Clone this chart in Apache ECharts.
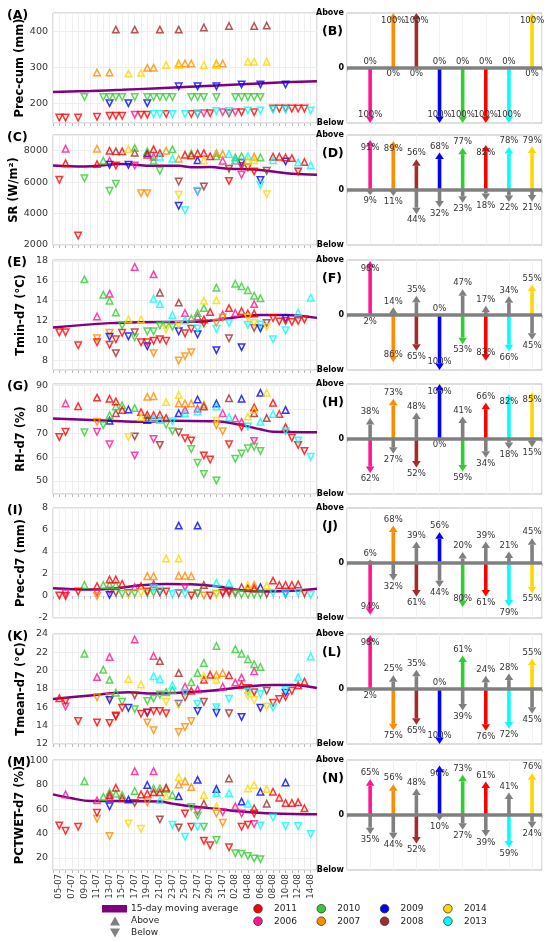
<!DOCTYPE html>
<html>
<head>
<meta charset="utf-8">
<script src="https://cdn.jsdelivr.net/npm/echarts@6/dist/echarts.min.js"></script>
<style>
  html, body { margin: 0; padding: 0; background: #fff; }
  #chart { width: 550px; height: 942px; }
</style>
</head>
<body>
<div id="chart"></div>
<script>
// ---- data ----
const years = [2006, 2007, 2008, 2009, 2010, 2011, 2013, 2014];
const yearColors = ['#ff1493', '#ff8c00', '#a52a2a', '#0000ff', '#32cd32', '#ff0000', '#00ffff', '#ffd700'];

const dayLabels = ['05-07','06-07','07-07','08-07','09-07','10-07','11-07','12-07','13-07','14-07',
  '15-07','16-07','17-07','18-07','19-07','20-07','21-07','22-07','23-07','24-07','25-07','26-07',
  '27-07','28-07','29-07','30-07','31-07','01-08','02-08','03-08','04-08','05-08','06-08','07-08',
  '08-08','09-08','10-08','11-08','12-08','13-08','14-08'];

// points: [day index, value, year, 1 = above / 0 = below]
const precCumPts = [
  [9,404,2008,1],[12,404,2008,1],[16,404,2008,1],[19,404,2008,1],[23,410,2008,1],[27,414,2008,1],[31,414,2008,1],[33,415,2008,1],
  [6,285,2007,1],[8,285,2007,1],[14,298,2007,1],[15,298,2007,1],[19,310,2007,1],[20,310,2007,1],[21,310,2007,1],[25,310,2007,1],[26,310,2007,1],
  [11,282,2014,1],[13,284,2014,1],[17,306,2014,1],[19,306,2014,1],[23,306,2014,1],[25,306,2014,1],[30,315,2014,1],[31,315,2014,1],[33,315,2014,1],
  [8,200,2009,0],[11,200,2009,0],[14,200,2009,0],[19,247,2009,0],[22,247,2009,0],[25,247,2009,0],[29,252,2009,0],[32,252,2009,0],[36,252,2009,0],
  [4,217,2010,0],[7,217,2010,0],[8,217,2010,0],[9,217,2010,0],[10,217,2010,0],[12,217,2010,0],[14,217,2010,0],[15,217,2010,0],[16,217,2010,0],[17,217,2010,0],
  [18,217,2010,0],[21,217,2010,0],[22,217,2010,0],[23,217,2010,0],[25,217,2010,0],[28,217,2010,0],[29,217,2010,0],[30,217,2010,0],[31,217,2010,0],[32,217,2010,0],
  [0,160,2011,0],[1,160,2011,0],[3,160,2011,0],[6,162,2011,0],[8,165,2011,0],[9,165,2011,0],[10,165,2011,0],[13,168,2011,0],[14,168,2011,0],[17,170,2011,0],
  [21,170,2011,0],[22,170,2011,0],[24,172,2011,0],[27,172,2011,0],[29,175,2011,0],[31,175,2011,0],[34,185,2011,0],[35,185,2011,0],[36,185,2011,0],[37,185,2011,0],[38,185,2011,0],[39,185,2011,0],
  [12,168,2006,0],[23,172,2006,0],[26,175,2006,0],[28,175,2006,0],
  [15,170,2013,0],[16,170,2013,0],[18,170,2013,0],[20,170,2013,0],[22,172,2013,0],[25,178,2013,0],[27,178,2013,0],[30,180,2013,0],[32,180,2013,0],[34,182,2013,0],[36,182,2013,0],[40,180,2013,0]
];
const srPts = [
  [0,6150,2011,0],[1,8130,2006,1],[1,7210,2011,1],[3,2600,2011,0],[4,6250,2010,0],
  [6,8130,2007,1],[6,7150,2011,1],[7,7360,2010,1],
  [8,8000,2011,1],[8,7360,2006,1],[8,7100,2009,0],[8,5450,2010,0],
  [9,7960,2008,1],[9,7060,2011,0],[9,5900,2010,0],[10,7960,2011,1],
  [11,8090,2014,1],[11,7100,2009,0],
  [12,8170,2010,1],[12,7870,2008,1],[12,7060,2006,0],[13,5300,2007,0],
  [14,7960,2010,1],[14,7850,2009,1],[14,7740,2011,1],[14,5300,2007,0],
  [15,8090,2011,1],[15,7620,2006,1],[15,7360,2010,1],
  [16,7850,2011,1],[16,7620,2013,1],[16,6720,2010,0],[17,8000,2007,1],
  [18,8090,2010,1],[18,7490,2013,1],
  [19,7490,2007,1],[19,6040,2008,0],[19,5190,2014,0],[19,4490,2009,0],
  [20,7740,2011,1],[20,4210,2013,0],[21,7830,2010,1],[21,7700,2011,1],
  [22,7830,2011,1],[22,7400,2009,1],[22,5400,2006,0],[22,5450,2013,0],
  [23,7850,2011,1],[23,7380,2014,1],[23,5720,2008,0],[24,7640,2011,1],
  [25,7850,2007,1],[25,7640,2010,1],[26,7790,2007,1],[26,7360,2006,1],
  [27,7790,2013,1],[27,6850,2008,0],[27,6080,2011,0],
  [28,7570,2010,1],[28,7380,2006,1],[28,7400,2013,1],
  [29,7650,2010,1],[29,7230,2009,0],[29,7020,2011,0],[29,6470,2006,0],
  [30,7650,2013,1],[30,7360,2014,1],[30,6940,2011,0],
  [31,7620,2007,1],[31,7400,2014,1],[31,6680,2011,0],
  [32,7570,2010,1],[32,6130,2009,0],[32,5830,2013,0],
  [33,6720,2008,0],[33,5230,2014,0],[34,7620,2011,1],[34,7400,2013,1],[35,7620,2011,1],
  [36,7570,2011,1],[36,7320,2009,0],[37,7530,2011,1],[38,7250,2013,1],[38,6680,2011,0],
  [39,7280,2011,1],[40,7080,2013,1]
];
const tminPts = [
  [0,10.8,2011,0],[1,10.8,2011,0],[3,9.5,2011,0],[4,16.15,2010,1],
  [6,12.4,2006,1],[6,10.2,2007,0],[6,9.8,2011,0],[7,14.6,2010,1],
  [8,14.7,2006,1],[8,14.0,2010,1],[8,10.75,2007,0],[8,10.35,2009,0],[8,9.55,2011,0],
  [9,12.8,2010,1],[9,10.1,2011,0],[9,8.7,2008,0],[10,11.5,2010,0],[10,10.75,2011,0],
  [11,12.1,2014,1],[11,10.4,2009,0],[12,17.4,2006,1],[12,10.8,2008,0],[12,10.3,2010,0],
  [13,12.1,2014,1],[13,9.8,2011,0],[14,10.9,2010,0],[14,9.8,2011,0],[14,9.4,2009,0],
  [15,16.65,2006,1],[15,14.2,2013,1],[15,10.9,2010,0],[15,9.95,2011,0],[15,8.7,2007,0],
  [16,14.8,2008,1],[16,13.65,2013,1],[16,11.5,2010,0],[16,10.1,2011,0],
  [17,11.55,2010,0],[17,11.1,2014,0],[17,9.95,2011,0],[18,12.55,2013,1],[18,11.35,2010,0],
  [19,13.8,2008,1],[19,11.55,2014,0],[19,10.9,2009,0],[19,7.95,2007,0],
  [20,12.75,2006,1],[20,12.0,2013,1],[20,10.7,2011,0],[20,8.4,2007,0],
  [21,12.2,2010,1],[21,11.15,2011,0],[21,8.8,2007,0],
  [22,12.75,2010,1],[22,12.4,2006,1],[22,11.2,2013,0],[22,10.6,2009,0],
  [23,14.0,2014,1],[23,13.25,2010,1],[23,12.1,2011,1],[23,11.7,2008,0],[24,12.85,2011,1],
  [25,15.3,2010,1],[25,14.05,2014,1],[25,11.75,2007,0],[25,11.15,2013,0],[25,9.0,2009,0],
  [26,12.6,2006,1],[26,12.3,2007,0],[27,13.25,2011,1],[27,11.75,2013,0],[27,10.2,2008,0],
  [28,15.7,2010,1],[28,12.75,2006,1],[29,15.45,2010,1],[29,12.95,2011,1],[29,9.3,2009,0],
  [30,15.05,2010,1],[30,12.7,2011,1],[30,12.3,2014,0],[30,11.55,2013,0],
  [31,14.5,2010,1],[31,13.65,2006,1],[31,12.7,2011,1],[31,11.75,2014,0],[31,11.25,2008,0],
  [32,14.25,2010,1],[32,11.6,2013,0],[32,11.2,2009,0],[33,11.75,2008,0],[33,11.35,2014,0],
  [34,12.25,2011,0],[34,10.1,2013,0],[35,11.9,2011,0],
  [36,12.2,2009,0],[36,11.95,2011,0],[36,11.0,2013,0],[37,11.85,2011,0],
  [38,12.8,2013,1],[38,11.95,2011,0],[39,12.1,2011,0],[40,14.3,2013,1]
];
const rhPts = [
  [0,68.4,2011,0],[1,82.5,2006,1],[1,70.6,2011,0],[3,81.4,2011,1],[4,70.4,2010,0],
  [6,85,2011,1],[6,74.8,2007,0],[6,70.6,2006,0],[7,73.4,2010,0],
  [8,84.5,2011,1],[8,77.6,2010,1],[8,75.3,2009,1],[8,65.4,2006,0],
  [9,83.4,2011,1],[9,81.2,2010,1],[9,78.4,2008,1],[10,81.7,2010,1],[10,79.8,2011,1],
  [11,80,2009,1],[11,68.4,2014,0],[12,80.6,2010,1],[12,68.7,2008,0],[12,60.7,2006,0],
  [13,78.9,2011,1],[13,76.7,2014,1],
  [14,85.3,2007,1],[14,77.8,2011,1],[14,76.4,2010,1],[14,75.6,2009,1],
  [15,85.6,2007,1],[15,77.6,2011,1],[15,76.4,2013,1],[15,67.6,2006,0],
  [16,77.8,2011,1],[16,75.6,2013,1],[16,65.1,2008,0],
  [17,83.1,2014,1],[17,76.4,2011,1],[17,73.7,2010,0],[18,75.1,2013,0],[18,70.9,2010,0],
  [19,86.1,2014,1],[19,82.5,2007,1],[19,78.4,2009,1],[19,70.4,2008,0],
  [20,82.5,2007,1],[20,79.8,2006,1],[20,78.4,2013,1],[20,67.9,2011,0],
  [21,82.5,2007,1],[21,67,2011,0],[21,63.4,2010,0],
  [22,84.2,2009,1],[22,80.3,2006,1],[22,79.2,2013,1],[22,57.6,2010,0],
  [23,82,2007,1],[23,81.2,2008,1],[23,60.7,2011,0],[23,52.9,2010,0],[24,59,2011,0],
  [25,82.5,2009,1],[25,81.2,2013,1],[25,75.3,2014,0],[25,73.4,2007,0],[25,50.2,2010,0],
  [26,78.4,2006,1],[26,70.9,2007,0],[27,84.7,2008,1],[27,76.7,2013,1],[27,65.4,2011,0],
  [28,76.2,2006,1],[28,59.3,2010,0],
  [29,84.5,2009,1],[29,74.8,2006,1],[29,72.6,2011,0],[29,61.5,2010,0],
  [30,77,2014,1],[30,72.9,2013,0],[30,63.7,2010,0],
  [31,80.9,2011,1],[31,79.8,2014,1],[31,78.4,2008,1],[31,66.8,2006,0],[31,64.3,2010,0],
  [32,87,2009,1],[32,74.8,2013,1],[32,62.6,2010,0],[33,87,2014,1],[33,76.4,2008,1],
  [34,82.8,2011,1],[34,78.1,2013,1],[35,78.1,2011,1],
  [36,79.8,2009,1],[36,72.6,2011,1],[36,70.9,2013,0],[37,68.1,2011,0],
  [38,67,2013,0],[38,65.1,2011,0],[39,62.6,2011,0],[40,60.1,2013,0]
];
const precPts = [
  [0,0.05,2011,0],[1,0,2011,0],[1,0.25,2006,0],[3,0.4,2011,0],[4,1.0,2010,1],
  [6,0.9,2011,1],[6,0.3,2006,0],[6,0,2007,0],[7,1.0,2010,1],
  [8,1.5,2011,1],[8,1.0,2010,1],[8,0.5,2006,0],[8,0.1,2009,0],
  [9,1.5,2011,1],[9,1.0,2010,1],[9,0.3,2008,0],[10,1.1,2011,1],[10,0.2,2010,0],
  [11,0.25,2009,0],[11,0.15,2014,0],[12,0.8,2006,1],[12,0.25,2010,0],
  [13,0.9,2011,1],[13,0.3,2014,0],[14,1.8,2007,1],[14,0.4,2011,0],[14,0.25,2010,0],
  [15,1.8,2007,1],[15,1.1,2006,1],[15,0.7,2013,0],[15,0.3,2010,0],
  [16,0.5,2013,0],[16,0.35,2008,0],[16,0.35,2011,0],[17,3.4,2014,1],[17,0.4,2011,0],
  [18,0.2,2013,0],
  [19,6.4,2009,1],[19,3.4,2014,1],[19,1.85,2007,1],[19,0.25,2008,0],
  [20,1.85,2007,1],[20,0.8,2006,0],[20,0.2,2013,0],[21,1.8,2007,1],[21,0.05,2011,0],
  [22,6.4,2009,1],[22,0.2,2010,0],[22,0.25,2006,0],[23,1.0,2008,1],[23,0.05,2007,0],
  [24,0.05,2011,0],[25,1.2,2013,1],[25,0.2,2010,0],[25,0.15,2014,0],
  [26,0.25,2006,0],[26,0.3,2011,0],[27,1.15,2013,1],[27,0.5,2008,0],[27,0.3,2011,0],
  [28,0.3,2006,0],[28,0.2,2010,0],[29,0.8,2008,1],[29,0.15,2010,0],
  [30,1.0,2014,1],[30,0.7,2011,1],[30,0.15,2010,0],[31,1.0,2007,1],[31,0.7,2011,1],[31,0.15,2010,0],
  [32,0.8,2009,1],[32,0.15,2010,0],[33,0.95,2014,1],[33,0.2,2008,0],
  [34,1.4,2011,1],[34,0.3,2013,0],[35,1.0,2011,1],
  [36,1.0,2011,1],[36,0.2,2009,0],[36,0.15,2013,0],[37,1.0,2011,1],
  [38,1.05,2011,1],[38,0.3,2013,0],[39,0.25,2011,0],[40,0.1,2013,0]
];
const tmeanPts = [
  [0,17.0,2011,1],[1,16.65,2011,0],[1,16.1,2006,0],[3,14.5,2011,0],[4,21.85,2010,1],
  [6,19.3,2006,1],[6,17.1,2007,0],[6,14.35,2011,0],[7,20.1,2010,1],
  [8,21.5,2006,1],[8,19.0,2010,1],[8,17.1,2007,0],[8,16.8,2009,0],[8,14.3,2011,0],
  [9,17.6,2010,1],[9,15.1,2011,0],[9,15.0,2008,0],[10,16.6,2010,0],[10,15.95,2011,0],
  [11,19.1,2014,1],[11,15.95,2009,0],[12,23.4,2006,1],[12,17.3,2008,0],[12,15.8,2010,0],
  [13,18.5,2014,1],[13,15.3,2011,0],
  [14,16.7,2010,0],[14,15.45,2011,0],[14,15.4,2009,0],[14,14.35,2007,0],
  [15,21.6,2006,1],[15,19.4,2013,1],[15,16.95,2010,0],[15,15.6,2011,0],[15,13.5,2007,0],
  [16,21.05,2008,1],[16,19.1,2013,1],[16,17.4,2010,0],[16,15.6,2011,0],
  [17,17.65,2010,1],[17,16.6,2014,0],[17,15.35,2011,0],[18,18.4,2013,1],[18,17.9,2010,1],
  [19,19.75,2008,1],[19,16.4,2009,0],[19,16.3,2014,0],[19,13.3,2007,0],
  [20,18.25,2006,1],[20,17.6,2013,0],[20,17.1,2011,0],[20,13.85,2007,0],
  [21,18.75,2010,1],[21,17.8,2011,1],[21,14.5,2007,0],
  [22,19.75,2010,1],[22,17.95,2006,1],[22,16.4,2013,0],[22,15.6,2009,0],
  [23,20.85,2010,1],[23,19.4,2014,1],[23,19.0,2011,1],[23,16.6,2008,0],[24,19.55,2011,1],
  [25,22.7,2010,1],[25,19.55,2007,1],[25,19.0,2014,1],[25,16.0,2013,0],[25,15.4,2009,0],
  [26,19.75,2007,1],[26,18.25,2006,1],[27,19.5,2011,1],[27,16.95,2013,0],[27,15.35,2008,0],
  [28,22.35,2010,1],[28,18.7,2006,1],
  [29,21.85,2010,1],[29,19.25,2006,1],[29,18.45,2011,1],[29,14.95,2009,0],
  [30,21.25,2010,1],[30,18.1,2011,0],[30,17.7,2013,0],[30,17.25,2014,0],
  [31,20.7,2010,1],[31,19.95,2006,1],[31,17.65,2011,0],[31,16.8,2014,0],
  [32,20.4,2010,1],[32,17.45,2013,0],[32,15.95,2009,0],[33,17.8,2008,0],[33,16.1,2014,0],
  [34,16.5,2011,0],[34,16.0,2013,0],[35,16.9,2011,0],
  [36,17.9,2013,0],[36,17.6,2009,0],[36,17.15,2011,0],[37,17.8,2011,0],
  [38,19.3,2013,1],[38,18.4,2011,1],[39,18.8,2011,1],[40,21.55,2013,1]
];
const pctwetPts = [
  [0,46.7,2011,0],[1,72.2,2006,1],[1,42.3,2011,0],[3,45.6,2011,0],[4,83.1,2010,1],
  [6,67.3,2006,1],[6,57.0,2011,0],[6,52.1,2007,0],[7,70.1,2010,1],
  [8,73.9,2010,1],[8,71.7,2011,1],[8,69.5,2006,1],[8,62.4,2009,0],[8,38.0,2007,0],
  [9,77.7,2011,1],[9,72.8,2010,1],[10,71.7,2010,1],[10,69.0,2011,1],
  [11,67.9,2009,1],[11,48.3,2014,0],[12,91.3,2006,1],[12,75,2010,1],[12,65.2,2008,0],
  [13,72.2,2011,1],[13,43.9,2014,0],[14,79.9,2009,1],[14,72.8,2011,1],[14,65.7,2007,0],
  [15,91.3,2006,1],[15,77.1,2010,1],[15,73.9,2011,1],
  [16,77.1,2010,1],[16,73.9,2011,1],[16,67.3,2013,1],[16,51.6,2008,0],
  [17,77.7,2011,1],[17,76.6,2010,1],[17,70.6,2014,1],[18,71.7,2010,1],[18,47.2,2013,0],
  [19,86.4,2014,1],[19,80.4,2007,1],[19,70.6,2009,1],[19,45.0,2008,0],
  [20,83.1,2007,1],[20,56.5,2011,0],[20,37.4,2013,0],
  [21,78.2,2007,1],[21,61.9,2010,0],[21,45.6,2011,0],
  [22,84.2,2009,1],[22,58.1,2006,0],[22,54.8,2010,0],[22,45.6,2013,0],
  [23,71.7,2014,1],[23,64.6,2008,1],[23,45.6,2010,0],[23,34.1,2011,0],[24,30.3,2011,0],
  [25,76.6,2009,1],[25,73.3,2013,1],[25,62.4,2014,1],[25,56.5,2007,0],[25,34.7,2010,0],
  [26,57.6,2006,0],[26,48.8,2007,0],[27,85.3,2008,1],[27,73.3,2013,1],[27,28.7,2011,0],
  [28,62.4,2006,1],[28,23.8,2010,0],
  [29,66.3,2009,1],[29,56.5,2006,0],[29,45.6,2011,0],[29,23.3,2010,0],
  [30,77.1,2014,1],[30,64.6,2013,1],[30,47.2,2011,0],[30,21.6,2010,0],
  [31,79.9,2014,1],[31,60.8,2008,1],[31,56.5,2011,0],[31,47.8,2006,0],[31,19.5,2010,0],
  [32,74.4,2009,1],[32,46.7,2013,0],[32,18.9,2010,0],[33,76.6,2014,1],[33,64.6,2008,1],
  [34,74.4,2011,1],[34,53.2,2013,0],[35,69.5,2011,1],
  [36,82.0,2009,1],[36,65.2,2011,1],[36,46.1,2013,0],[37,65.2,2011,1],
  [38,65.7,2011,1],[38,46.1,2013,0],[39,60.8,2011,1],[40,39.6,2013,0]
];

// 15-day moving averages: [day index, value]
const precCumMA = [[-1,231],[5,234],[10,237],[15,241],[20,245],[25,249],[30,253],[35,257],[41,261]];
const srMA = [[-1,7060],[4,7000],[10,7150],[15,7040],[19,7040],[21,6940],[24,6960],[27,6850],[31,6810],[34,6680],[37,6530],[41,6470]];
const tminMA = [[-1,11.3],[8,11.73],[13,11.83],[21,11.86],[26,12.13],[32,12.56],[36,12.56],[41,12.26]];
const rhMA = [[-1,76.2],[8,75.3],[13,74.8],[18,75.3],[24,75.1],[26,74.8],[29,73.4],[32,71.7],[34,70.6],[41,70.4]];
const precMA = [[-1,0.71],[5,0.6],[9,0.71],[13,0.98],[17,1.1],[21,1.07],[25,0.89],[29,0.53],[33,0.41],[37,0.47],[41,0.65]];
const tmeanMA = [[-1,16.9],[5,17.3],[11,17.65],[15,17.5],[19,17.6],[24,17.8],[29,18.2],[34,18.45],[37,18.45],[41,18.1]];
const pctwetMA = [[-1,72.2],[2,69],[5,66.8],[10,66.8],[16,66.3],[18,64.6],[21,62.4],[25,60.3],[29,58.1],[34,56.5],[41,55.9]];

// share of days above / below the average, per year (same order as years)
const precCumAbove = [0, 100, 100, 0, 0, 0, 0, 100];
const precCumBelow = [100, 0, 0, 100, 100, 100, 100, 0];
const srAbove = [91, 89, 56, 68, 77, 82, 78, 79];
const srBelow = [9, 11, 44, 32, 23, 18, 22, 21];
const tminAbove = [98, 14, 35, 0, 47, 17, 34, 55];
const tminBelow = [2, 86, 65, 100, 53, 83, 66, 45];
const rhAbove = [38, 73, 48, 100, 41, 66, 82, 85];
const rhBelow = [62, 27, 52, 0, 59, 34, 18, 15];
const precAbove = [6, 68, 39, 56, 20, 39, 21, 45];
const precBelow = [94, 32, 61, 44, 80, 61, 79, 55];
const tmeanAbove = [98, 25, 35, 0, 61, 24, 28, 55];
const tmeanBelow = [2, 75, 65, 100, 39, 76, 72, 45];
const pctwetAbove = [65, 56, 48, 90, 73, 61, 41, 76];
const pctwetBelow = [35, 44, 52, 10, 27, 39, 59, 24];

const leftNames = ['Prec-cum (mm)', 'SR (W/m²)', 'Tmin-d7 (°C)', 'RH-d7 (%)', 'Prec-d7 (mm)', 'Tmean-d7 (°C)', 'PCTWET-d7 (%)'];
const leftLetters = ['(A)', '(C)', '(E)', '(G)', '(I)', '(K)', '(M)'];
const rightLetters = ['(B)', '(D)', '(F)', '(H)', '(J)', '(L)', '(N)'];
const yMins = [145, 2000, 7, 44.5, -2, 12, 10];
const yMaxs = [450, 9000, 18.1, 90.7, 8, 24, 100.5];
const ySteps = [100, 2000, 2, 10, 2, 2, 20];
const ySplits = [3, 4, 5, 5, 5, 6, 5];

const legendRow1 = [2011, 2010, 2009, 2014];
const legendRow2 = [2006, 2007, 2008, 2013];

// ---- chart ----
const FONT = 'DejaVu Sans';
const GREY = '#808080';
const tops = [13, 135, 260, 384, 508, 634, 760];
const panelPts = [precCumPts, srPts, tminPts, rhPts, precPts, tmeanPts, pctwetPts];
const panelMA = [precCumMA, srMA, tminMA, rhMA, precMA, tmeanMA, pctwetMA];
const panelAbove = [precCumAbove, srAbove, tminAbove, rhAbove, precAbove, tmeanAbove, pctwetAbove];
const panelBelow = [precCumBelow, srBelow, tminBelow, rhBelow, precBelow, tmeanBelow, pctwetBelow];

const chart = echarts.init(document.getElementById('chart'), null, { renderer: 'canvas' });

const grid = [], xAxis = [], yAxis = [], series = [], graphic = [];

function colorOf(y) { return yearColors[years.indexOf(y)]; }

// left panels
panelPts.forEach((pts, k) => {
  grid.push({ left: 53, top: tops[k], width: 264, height: 110, show: true, borderColor: '#bbb', borderWidth: 1 });
  const last = k === panelPts.length - 1;
  xAxis.push({
    type: 'value', gridIndex: k, min: -1, max: 41, interval: 1,
    axisLine: { show: false },
    axisTick: { show: true, length: 3, lineStyle: { color: '#bbb' } },
    axisLabel: {
      show: last, rotate: 90, fontSize: 8.5, color: '#333', fontFamily: FONT, margin: 4,
      formatter: v => { const d = Math.round(v); return (d >= 0 && d % 2 === 0 && dayLabels[d]) ? dayLabels[d] : ''; }
    },
    splitLine: { show: true, lineStyle: { color: '#f0f0f0', width: 1 } }
  });
  const step = ySteps[k];
  yAxis.push({
    type: 'value', gridIndex: k, min: yMins[k], max: yMaxs[k], splitNumber: ySplits[k],
    name: leftNames[k], nameLocation: 'middle', nameGap: k === 1 ? 30 : 26,
    nameTextStyle: { fontSize: 11.5, fontWeight: 'bold', color: '#000', fontFamily: FONT },
    axisLine: { show: false }, axisTick: { show: false },
    axisLabel: {
      fontSize: 9.5, color: '#333', fontFamily: FONT, margin: 5,
      formatter: v => Math.abs(v / step - Math.round(v / step)) < 1e-6 ? String(Math.round(v)) : ''
    },
    splitLine: { show: true, lineStyle: { color: '#eeeeee' } }
  });
  series.push({
    type: 'line', xAxisIndex: k, yAxisIndex: k, data: panelMA[k], smooth: 0.4,
    symbol: 'none', lineStyle: { color: '#800080', width: 2.5 }, z: 1, silent: true
  });
  years.forEach(y => {
    [1, 0].forEach(dir => {
      const data = pts.filter(p => p[2] === y && p[3] === dir).map(p => [p[0], p[1]]);
      if (!data.length) return;
      series.push({
        type: 'scatter', xAxisIndex: k, yAxisIndex: k, data,
        symbol: 'triangle', symbolSize: 6.5, symbolRotate: dir ? 0 : 180,
        itemStyle: { color: 'rgba(255,255,255,0)', borderColor: colorOf(y), borderWidth: 1.5 },
        z: 3, silent: true
      });
    });
  });
  graphic.push({ type: 'text', left: 7, top: tops[k] - 4,
    style: { text: leftLetters[k], fontSize: 12.5, fontWeight: 'bold', fill: '#000', fontFamily: FONT } });
  graphic.push({ type: 'text', left: 322, top: tops[k] + 12,
    style: { text: rightLetters[k], fontSize: 12.5, fontWeight: 'bold', fill: '#000', fontFamily: FONT } });
});

// right panels
function addArrow(children, x, y0, y1, dir, col) {
  const len = Math.abs(y1 - y0);
  if (len < 0.5) return;
  const hl = Math.min(6.5, len), hw = 4.3;
  const baseY = y1 - dir * hl;
  if (Math.abs(baseY - y0) > 0.1) {
    children.push({ type: 'rect', shape: { x: x - 1.8, y: Math.min(y0, baseY), width: 3.6, height: Math.abs(baseY - y0) }, style: { fill: col } });
  }
  children.push({ type: 'polygon', shape: { points: [[x - hw, baseY], [x + hw, baseY], [x, y1]] }, style: { fill: col } });
}
function pctText(t, x, y) {
  return { type: 'text', style: { text: t, x, y, align: 'center', verticalAlign: 'middle', fontSize: 8.5, fill: '#333', fontFamily: FONT } };
}
function renderArrows(params, api) {
  const x = api.value(0), a = api.value(1), b = api.value(2);
  const c = yearColors[params.dataIndex];
  const p0 = api.coord([x, 0]), pa = api.coord([x, a]), pb = api.coord([x, -b]);
  const children = [];
  addArrow(children, p0[0], p0[1], pa[1], -1, a > b ? c : GREY);
  addArrow(children, p0[0], p0[1], pb[1], 1, b > a ? c : GREY);
  children.push(pctText(a + '%', p0[0], a >= 80 ? pa[1] + 8 : pa[1] - 6));
  children.push(pctText(b + '%', p0[0], b >= 80 ? pb[1] - 8 : pb[1] + 6));
  return { type: 'group', children };
}

panelAbove.forEach((above, k) => {
  const gi = panelPts.length + k;
  grid.push({ left: 347, top: tops[k], width: 195, height: 110, show: true, borderColor: '#bbb', borderWidth: 1 });
  xAxis.push({
    type: 'value', gridIndex: gi, min: 0, max: 8.43, interval: 1,
    axisLine: { show: false },
    axisTick: { show: true, length: 3, lineStyle: { color: '#bbb' } },
    axisLabel: { show: false },
    splitLine: { show: true, lineStyle: { color: '#f2f2f2' } }
  });
  yAxis.push({
    type: 'value', gridIndex: gi, min: -100, max: 100, interval: 100,
    axisLine: { show: false }, axisTick: { show: false },
    axisLabel: {
      fontSize: 8, fontWeight: 'bold', color: '#000', fontFamily: FONT, margin: 3,
      formatter: v => v === 100 ? 'Above' : v === 0 ? '0' : v === -100 ? 'Below' : ''
    },
    splitLine: { show: false }
  });
  const below = panelBelow[k];
  series.push({
    type: 'custom', xAxisIndex: gi, yAxisIndex: gi, clip: false, silent: true,
    renderItem: renderArrows,
    data: years.map((y, i) => [i + 1, above[i], below[i]]),
    markLine: {
      silent: true, symbol: ['none', 'none'], label: { show: false },
      lineStyle: { color: GREY, width: 3.5, type: 'solid' },
      data: [{ yAxis: 0 }]
    },
    z: 3
  });
});

// legend
graphic.push({ type: 'rect', shape: { x: 102, y: 905, width: 25, height: 7.5 }, style: { fill: '#800080' } });
graphic.push({ type: 'text', style: { text: '15-day moving average', x: 131, y: 908.5, verticalAlign: 'middle', fontSize: 9, fill: '#222', fontFamily: FONT } });
graphic.push({ type: 'polygon', shape: { points: [[110, 925.5], [120, 925.5], [115, 916.5]] }, style: { fill: GREY } });
graphic.push({ type: 'text', style: { text: 'Above', x: 131, y: 921, verticalAlign: 'middle', fontSize: 9, fill: '#222', fontFamily: FONT } });
graphic.push({ type: 'polygon', shape: { points: [[110, 928.5], [120, 928.5], [115, 937.5]] }, style: { fill: GREY } });
graphic.push({ type: 'text', style: { text: 'Below', x: 131, y: 933, verticalAlign: 'middle', fontSize: 9, fill: '#222', fontFamily: FONT } });
[legendRow1, legendRow2].forEach((row, r) => {
  row.forEach((y, c) => {
    const cx = 258 + c * 63.3, cy = 908.7 + r * 12.5;
    graphic.push({ type: 'circle', shape: { cx, cy, r: 4.3 }, style: { fill: colorOf(y), stroke: '#333', lineWidth: 0.8 } });
    graphic.push({ type: 'text', style: { text: String(y), x: cx + 16, y: cy, verticalAlign: 'middle', fontSize: 9, fill: '#222', fontFamily: FONT } });
  });
});

chart.setOption({
  animation: false,
  backgroundColor: '#fff',
  textStyle: { fontFamily: FONT },
  grid, xAxis, yAxis, series, graphic
});
</script>
</body>
</html>
